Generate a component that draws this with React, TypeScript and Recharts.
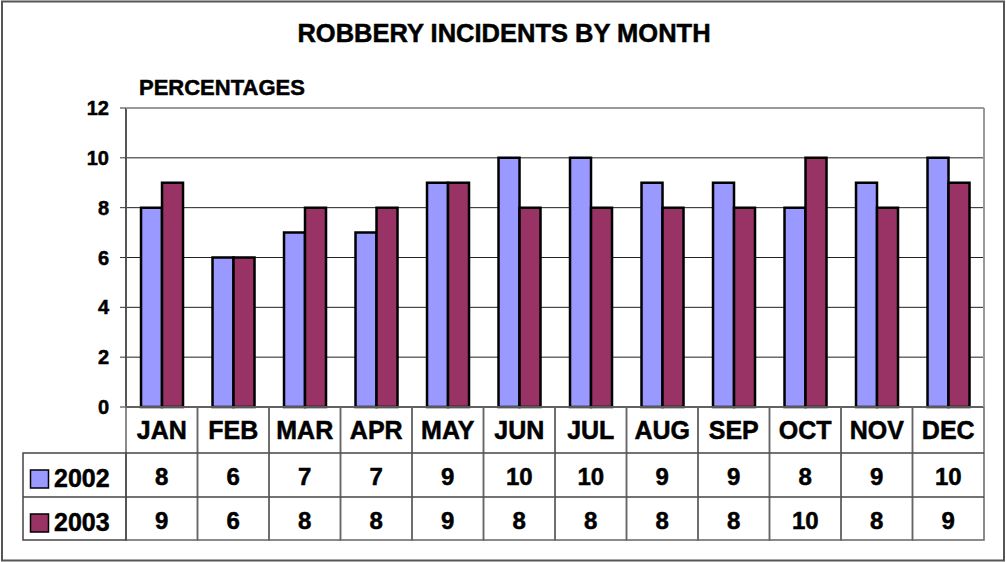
import { Bar, BarChart, CartesianGrid, XAxis, YAxis } from 'recharts'

const MONTHS = ['JAN', 'FEB', 'MAR', 'APR', 'MAY', 'JUN', 'JUL', 'AUG', 'SEP', 'OCT', 'NOV', 'DEC']
const Y2002 = [8, 6, 7, 7, 9, 10, 10, 9, 9, 8, 9, 10]
const Y2003 = [9, 6, 8, 8, 9, 8, 8, 8, 8, 10, 8, 9]
const Y_TICKS = [0, 2, 4, 6, 8, 10, 12]
const SERIES = [
  { key: 'y2002', name: '2002', color: '#9999FF', values: Y2002 },
  { key: 'y2003', name: '2003', color: '#993366', values: Y2003 },
]

const data = MONTHS.map((month, i) => ({ month, y2002: Y2002[i], y2003: Y2003[i] }))

const W = 1007
const H = 562
const FONT = '"Liberation Sans", Arial, sans-serif'
const PLOT_L = 126
const PLOT_R = 984
const PLOT_T = 108
const PLOT_B = 407
const ROW1 = 453
const ROW2 = 497
const ROW3 = 540
const BAND = (PLOT_R - PLOT_L) / MONTHS.length
const LINE_GRAY = '#666'

const txt = { fontWeight: 'bold', fontFamily: FONT, fill: '#000', stroke: '#000', strokeWidth: 0.5 } as const

function TableTick(props: any) {
  const { x, payload } = props
  const i = payload.index
  const left = x - BAND / 2
  return (
    <g>
      <rect x={left} y={PLOT_B} width={BAND} height={ROW3 - PLOT_B} fill="none" stroke={LINE_GRAY} strokeWidth={1.5} />
      <line x1={left} x2={left + BAND} y1={ROW1} y2={ROW1} stroke="#444" strokeWidth={1.5} />
      <line x1={left} x2={left + BAND} y1={ROW2} y2={ROW2} stroke="#444" strokeWidth={1.5} />
      <text x={x} y={439} textAnchor="middle" fontSize={25} {...txt}>
        {MONTHS[i]}
      </text>
      <text x={x} y={485} textAnchor="middle" fontSize={24} {...txt}>
        {Y2002[i]}
      </text>
      <text x={x} y={529} textAnchor="middle" fontSize={24} {...txt}>
        {Y2003[i]}
      </text>
    </g>
  )
}

export default function App() {
  return (
    <div style={{ position: 'absolute', left: 0, top: 0, width: W, height: H, background: '#fff' }}>
      <BarChart
        width={W}
        height={H}
        data={data}
        margin={{ top: PLOT_T, right: W - PLOT_R, left: 0, bottom: H - ROW3 }}
        barCategoryGap="21%"
        barGap={0}
      >
        <CartesianGrid vertical={false} stroke="#222" strokeWidth={1} />
        <XAxis
          dataKey="month"
          height={ROW3 - PLOT_B}
          interval={0}
          tickLine={false}
          axisLine={{ stroke: '#444', strokeWidth: 1.5 }}
          tick={(p: any) => <TableTick {...p} />}
        />
        <YAxis
          width={PLOT_L}
          domain={[0, 12]}
          ticks={Y_TICKS}
          interval={0}
          tickSize={6}
          tickMargin={11}
          axisLine={{ stroke: '#555', strokeWidth: 2 }}
          tickLine={{ stroke: '#333' }}
          tick={{ fontSize: 20, ...txt }}
        />
        {SERIES.map((s) => (
          <Bar key={s.key} dataKey={s.key} name={s.name} fill={s.color} stroke="#000" strokeWidth={2.5} isAnimationActive={false} />
        ))}
      </BarChart>
      <svg width={W} height={H} style={{ position: 'absolute', left: 0, top: 0, pointerEvents: 'none' }}>
        <rect x={2} y={1.5} width={1002} height={559} fill="none" stroke="#555" strokeWidth={2} />
        <line x1={PLOT_L} x2={PLOT_R} y1={PLOT_T} y2={PLOT_T} stroke="#999" strokeWidth={2} />
        <line x1={PLOT_R} x2={PLOT_R} y1={PLOT_T} y2={PLOT_B} stroke="#999" strokeWidth={2} />
        <text x={504} y={42} textAnchor="middle" fontSize={25.5} {...txt}>
          ROBBERY INCIDENTS BY MONTH
        </text>
        <text x={139} y={95} fontSize={22} {...txt}>
          PERCENTAGES
        </text>
        <rect x={23} y={ROW1} width={PLOT_L - 23} height={ROW3 - ROW1} fill="none" stroke="#444" strokeWidth={1.5} />
        <line x1={23} x2={PLOT_L} y1={ROW2} y2={ROW2} stroke="#444" strokeWidth={1.5} />
        {SERIES.map((s, i) => {
          const top = i === 0 ? ROW1 : ROW2
          return (
            <g key={s.key}>
              <rect x={30.5} y={top + 17} width={18} height={18} fill={s.color} stroke="#000" strokeWidth={1.5} />
              <text x={54} y={top + 34} fontSize={25} {...txt}>
                {s.name}
              </text>
            </g>
          )
        })}
      </svg>
    </div>
  )
}
